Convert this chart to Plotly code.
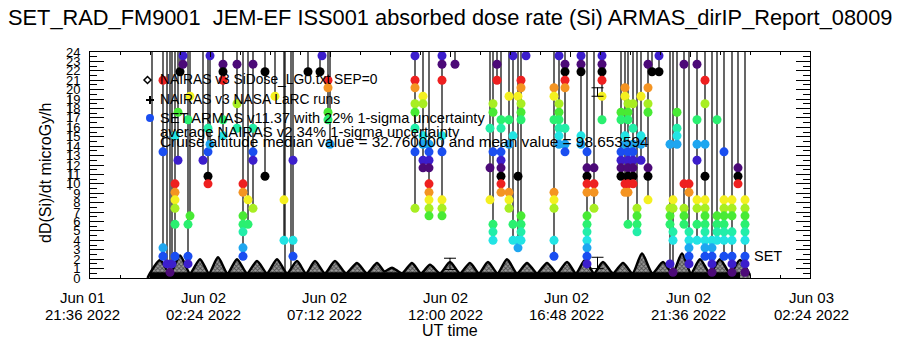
import plotly.graph_objects as go
import pandas as pd

FONT = "Liberation Sans"
DAY0 = pd.Timestamp("2022-06-02 00:00")

# ---------------- data (hours after 2022-06-02 00:00 UT, microGy/h) ----------------
# NAIRAS model curve: alternating troughs and peaks
nairas_hours = [-0.10, 0.00, 0.40, 0.80, 1.20, 1.60, 2.00, 2.36, 2.72, 3.10, 3.48, 3.88, 4.28,
                4.68, 5.08, 5.48, 5.88, 6.24, 6.60, 7.00, 7.40, 7.84, 8.28, 8.68, 9.08, 9.38,
                9.68, 10.08, 10.48, 10.84, 11.20, 11.60, 12.00, 12.40, 12.80, 13.16, 13.52,
                13.90, 14.28, 14.68, 15.08, 15.48, 15.88, 16.28, 16.68, 17.04, 17.40, 17.76,
                18.12, 18.52, 18.92, 19.30, 19.68, 20.10, 20.52, 20.90, 21.28, 21.64, 22.00,
                22.40, 22.80, 23.20, 23.60, 24.00]
nairas_dose = [0.0, 0.5, 1.9, 0.5, 2.4, 0.5, 2.0, 0.5, 2.2, 0.5, 2.0, 0.5, 1.8,
               0.5, 2.0, 0.5, 1.8, 0.5, 1.8, 0.5, 1.8, 0.5, 1.6, 0.5, 1.6, 0.7,
               1.1, 0.5, 1.6, 0.5, 1.4, 0.5, 1.7, 0.5, 1.6, 0.5, 1.7,
               0.5, 2.0, 0.5, 1.6, 0.5, 1.6, 0.5, 1.7, 0.5, 1.9, 0.5,
               1.7, 0.5, 1.6, 0.5, 2.6, 0.5, 1.7, 0.5, 2.6, 0.5, 2.0,
               0.5, 2.0, 0.5, 1.9, 0.3]

# SET ARMAS samples grouped by time column
col_hours = [0.52, 0.68, 0.80, 0.88, 1.00, 1.12, 1.20, 1.32, 1.52, 1.60, 2.12, 2.32, 2.40,
             2.92, 3.48, 3.72, 3.92, 4.12, 4.60, 5.00, 5.36, 5.72, 6.32, 6.80, 6.88, 7.12,
             7.20,
             10.60, 10.92, 11.16, 11.68, 12.20, 13.60, 13.72, 13.88, 14.04, 14.36, 14.52,
             14.72, 14.84, 15.04, 16.16, 16.36, 16.60,
             17.24, 17.48, 17.76, 18.08, 18.84, 19.00, 19.12, 19.32, 19.48, 19.64, 19.92,
             20.08, 20.36, 20.80, 20.92, 21.08, 21.36, 21.56, 21.88, 22.20, 22.48, 22.68,
             22.96, 23.28, 23.52, 23.80]
col_doses = [
    [21.0, 13.4, 3.2, 2.3], [1.5], [0.6], [1.5], [15.1, 10.0, 9.1, 8.3, 7.4, 5.7, 2.3], [17.6, 12.5],
    [21.9], [23.6, 22.7], [16.8, 5.7, 2.3, 1.5], [19.3, 6.6], [12.5], [15.9, 13.4, 10.8, 10.0],
    [23.6, 14.2],
    [22.7, 21.9, 21.0, 16.8, 15.1], [22.7, 18.5, 15.9], [10.0, 9.1, 6.6, 5.7, 4.9, 3.2, 2.3], [8.3, 5.7],
    [22.7, 15.9, 13.4, 12.5, 7.4], [21.9, 10.8], [19.3], [8.3, 4.0], [12.5, 4.0, 2.3], [21.9], [21.9],
    [23.6], [21.0, 20.2, 17.6, 16.8], [14.2],
    [23.6, 21.0, 20.2, 18.5, 17.6, 15.9, 13.4, 7.4], [19.3, 18.5, 15.1, 14.2, 12.5, 11.7],
    [14.2, 13.4, 12.5, 11.7, 10.0, 9.1, 8.3, 7.4, 6.6], [23.6, 22.7, 21.0, 15.1, 13.4, 8.3, 7.4, 6.6],
    [22.7], [15.9, 11.7, 8.3], [18.5, 17.6, 13.4, 5.7, 4.9, 4.0], [22.7, 21.0],
    [16.8, 15.9, 13.4, 12.5, 11.7, 10.8, 10.0, 9.1], [19.3, 16.8, 14.2, 9.1, 8.3, 7.4],
    [23.6, 15.1, 5.7, 4.0], [19.3, 10.8, 4.0, 3.2], [21.0, 20.2, 18.5, 17.6, 16.8, 6.6, 5.7, 4.9, 4.0],
    [23.6], [20.2, 19.3, 16.8, 9.1, 8.3, 7.4, 4.0, 2.3], [23.6, 18.5, 17.6, 16.8, 15.9, 15.1, 14.2],
    [22.7, 21.9, 21.0, 20.2, 15.9, 14.2, 13.4],
    [23.6, 22.7, 21.9, 15.1, 14.2], [13.4, 11.7, 10.8, 10.0, 9.1, 6.6, 5.7, 4.9, 4.0, 3.2, 2.3, 1.5],
    [11.7, 10.0, 9.1, 7.4], [23.6, 22.7, 21.9, 21.0, 19.3, 16.8], [17.6, 16.8, 13.4, 12.5, 11.7, 10.8],
    [20.2, 19.3, 15.1, 14.2, 10.0, 9.1], [18.5, 17.6, 16.8, 13.4, 12.5, 11.7, 10.8, 10.0, 9.1, 5.7],
    [18.5, 15.9, 14.2, 13.4, 12.5, 11.7, 10.8, 10.0], [7.4, 6.6, 5.7, 4.9], [19.3, 15.1, 14.2, 12.5],
    [22.7, 20.2, 18.5, 17.6, 11.7, 10.8, 8.3], [21.9], [23.6, 21.9], [14.2, 7.4, 6.6, 5.7, 1.5],
    [8.3, 7.4, 4.9, 4.0, 0.6], [17.6, 15.9, 15.1, 14.2], [22.7, 10.0, 7.4, 6.6, 5.7],
    [10.0, 9.1, 4.9, 4.0, 3.2, 2.3, 1.5], [22.7, 16.8, 14.2, 12.5, 8.3, 7.4, 5.7, 4.0],
    [21.0, 18.5, 14.2, 10.8, 8.3, 7.4, 6.6, 5.7, 4.9, 4.0, 3.2, 2.3], [4.0, 3.2, 2.3, 1.5, 0.6],
    [16.8, 6.6, 5.7, 4.9, 4.0], [13.4, 8.3, 7.4, 6.6, 5.7, 4.9, 4.0, 2.3],
    [8.3, 7.4, 6.6, 4.9, 4.0, 2.3, 1.5, 0.6], [11.7, 10.8, 10.0],
    [8.3, 7.4, 6.6, 5.7, 4.9, 4.0, 2.3, 1.5, 0.6]]

# traces of the ARMAS line that run through the whole plot without samples on scale
extra_line_hours = [0.08, 5.40, 5.64]
extra_line_low = [0.0, 0.0, 0.0]
TOP_VALUE = 30.0   # off-scale excursion of the ARMAS line

# average NAIRAS 1-sigma markers (top of the bar and its depth)
err_hours = [12.00, 17.90, 17.90]
err_top = [2.1, 20.2, 2.2]
err_depth = [1.2, 0.9, 1.2]

tick_times = ["2022-06-01 21:36", "2022-06-02 02:24", "2022-06-02 07:12", "2022-06-02 12:00",
              "2022-06-02 16:48", "2022-06-02 21:36", "2022-06-03 02:24"]
tick_day = ["Jun 01", "Jun 02", "Jun 02", "Jun 02", "Jun 02", "Jun 02", "Jun 03"]
tick_clock = ["21:36 2022", "02:24 2022", "07:12 2022", "12:00 2022", "16:48 2022",
              "21:36 2022", "02:24 2022"]
tick_label_shift = [-8, -7, -6, -5, -4, -2, 1]   # pixel nudges of the label centres

# rainbow+black colour cycle used for the dose dots (13 levels per cycle)
palette = ["#4c0a78", "#3c1ecc", "#1a4ef0", "#1ea6f0", "#22e4e4", "#22eea8", "#2af070",
           "#48ea34", "#a8ee22", "#f4f020", "#f49422", "#ee2020", "#000000"]
LEVEL0, LEVEL_STEP = 0.64, 0.849


def to_time(h):
    return DAY0 + pd.to_timedelta(h, unit="h")


def dot_colour(v):
    return palette[int(round((v - LEVEL0) / LEVEL_STEP)) % len(palette)]


fig = go.Figure()

# ARMAS line
lx, ly = [], []
for h, doses in zip(col_hours, col_doses):
    lx += [to_time(h), to_time(h), None]
    ly += [TOP_VALUE, min(doses), None]
for h, low in zip(extra_line_hours, extra_line_low):
    lx += [to_time(h), to_time(h), None]
    ly += [TOP_VALUE, low, None]
fig.add_trace(go.Scatter(x=lx, y=ly, mode="lines", line=dict(color="black", width=1.2),
                         hoverinfo="skip", showlegend=False))

# NAIRAS curve (hatched humps on a solid base)
nx = [to_time(h) for h in nairas_hours]
fig.add_trace(go.Scatter(x=nx, y=nairas_dose, mode="lines",
                         line=dict(color="black", width=2.5, shape="spline", smoothing=0.7),
                         fill="tozeroy", fillcolor="#777777",
                         fillpattern=dict(shape="x", fgcolor="black", bgcolor="#9a9a9a",
                                          size=3, solidity=0.5),
                         showlegend=False))
fig.add_trace(go.Scatter(x=[nx[1], nx[-2]], y=[0.3, 0.3], mode="lines",
                         line=dict(color="black", width=6), showlegend=False))

# ARMAS dots
dx, dy, dc = [], [], []
for h, doses in zip(col_hours, col_doses):
    for v in doses:
        dx.append(to_time(h))
        dy.append(v)
        dc.append(dot_colour(v))
fig.add_trace(go.Scatter(x=dx, y=dy, mode="markers",
                         marker=dict(size=9, color=dc, line=dict(width=0)), showlegend=False))

# error markers
fig.add_trace(go.Scatter(x=[to_time(h) for h in err_hours], y=err_top, mode="markers",
                         marker=dict(size=1, color="black"),
                         error_y=dict(type="data", symmetric=False, array=[0, 0, 0],
                                      arrayminus=err_depth, color="black", thickness=1, width=6),
                         showlegend=False))

xr = [pd.Timestamp(tick_times[0]), pd.Timestamp(tick_times[-1])]
fig.update_xaxes(type="date", range=xr, tickvals=[pd.Timestamp(t) for t in tick_times],
                 showticklabels=False, ticks="inside", ticklen=5, tickcolor="black",
                 showline=True, linecolor="black", linewidth=1, mirror="ticks",
                 showgrid=False, zeroline=False,
                 minor=dict(dtick=1.2 * 3600 * 1000, tick0=tick_times[0], ticks="inside",
                            ticklen=3, tickcolor="black", showgrid=False))
fig.update_yaxes(range=[0, 24], dtick=1, ticks="inside", ticklen=14, tickcolor="black",
                 showline=True, linecolor="black", linewidth=1, mirror="ticks",
                 showgrid=False, zeroline=False, ticklabelstandoff=6,
                 tickfont=dict(family=FONT, size=13, color="black"),
                 minor=dict(dtick=0.5, ticks="inside", ticklen=7, tickcolor="black", showgrid=False))

W, H, L, B = 720.0, 226.0, 90.0, 278.0
px = lambda x: (x - L) / W
py = lambda y: (B - y) / H

ann = []
def add_text(x, y, text, size=14.5, xanchor="left", xref="paper", **kw):
    ann.append(dict(x=x, y=y, xref=xref, yref="paper", text=text, showarrow=False,
                    xanchor=xanchor, yanchor="middle",
                    font=dict(family=FONT, size=size, color="black"), **kw))

for t, d, c, s in zip(tick_times, tick_day, tick_clock, tick_label_shift):
    add_text(pd.Timestamp(t), py(297), d, size=15, xanchor="center", xref="x", xshift=s)
    add_text(pd.Timestamp(t), py(314), c, size=15, xanchor="center", xref="x", xshift=s)

add_text(0.5, py(17), "SET_RAD_FM9001  JEM-EF ISS001 absorbed dose rate (Si) ARMAS_dirIP_Report_08009",
         size=21.8, xanchor="center")
add_text(0.5, py(330), "UT time", size=16, xanchor="center")
add_text(px(45), py(173), "dD(Si)/dt microGy/h", size=16, xanchor="center", textangle=-90)
add_text(px(158), py(79), "NAIRAS v3 SiDose_LG0.txt SEP=0", size=13.8)
add_text(px(158), py(99), "NAIRAS v3 NASA LaRC runs", size=13.8)
add_text(px(158), py(118), "SET ARMAS v11.37 with 22% 1-sigma uncertainty", size=14.6)
add_text(px(158), py(132), "average NAIRAS v2 34% 1-sigma uncertainty", size=14.8)
add_text(px(158), py(141), "Cruise altitude median value = 32.760000 and mean value = 98.653594", size=15.4)
add_text(px(752), py(256), "SET")

shapes = [
    # legend glyphs
    dict(type="path", xref="paper", yref="paper",
         path=f"M {px(144)} {py(80)} L {px(147.5)} {py(76.5)} L {px(151)} {py(80)} L {px(147.5)} {py(83.5)} Z",
         line=dict(color="black", width=1.5)),
    dict(type="line", xref="paper", yref="paper", x0=px(146), x1=px(154), y0=py(100), y1=py(100),
         line=dict(color="black", width=2)),
    dict(type="line", xref="paper", yref="paper", x0=px(150), x1=px(150), y0=py(96), y1=py(104),
         line=dict(color="black", width=2)),
    dict(type="circle", xref="paper", yref="paper", x0=px(146), x1=px(154), y0=py(114), y1=py(122),
         fillcolor="#1a4ef0", line=dict(width=0)),
    # stray line left of the axis
    dict(type="line", xref="paper", yref="paper", x0=px(70), x1=px(70), y0=py(93), y1=py(190),
         line=dict(color="black", width=1)),
]

fig.update_layout(width=900, height=350, margin=dict(l=90, r=90, t=52, b=72),
                  paper_bgcolor="white", plot_bgcolor="white",
                  annotations=ann, shapes=shapes, showlegend=False)

fig.write_html("out.html")
